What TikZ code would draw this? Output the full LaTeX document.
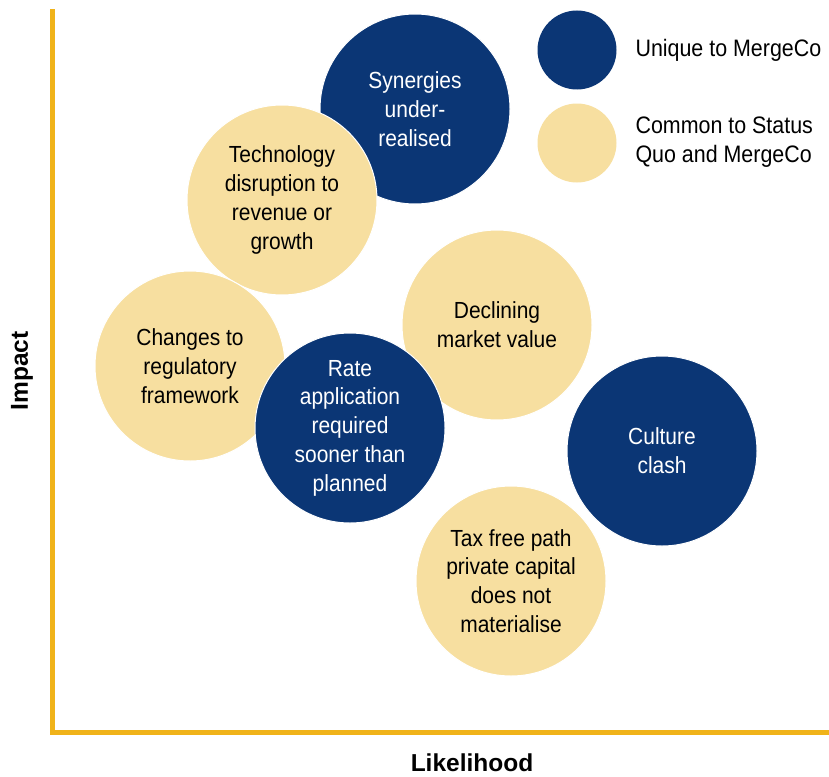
\documentclass[tikz,border=0pt]{standalone}
\usepackage{fontspec}
\setmainfont{Liberation Sans}
% slightly condensed face for the bubble and legend labels
\newfontfamily\labelfont[FakeStretch=0.9]{Liberation Sans}
\definecolor{navy}{RGB}{11,54,117}
\definecolor{sand}{RGB}{247,223,160}
\definecolor{axisgold}{RGB}{240,179,26}
\begin{document}
\begin{tikzpicture}[x=1pt,y=-1pt,
  bubble/.style={circle,minimum size=190pt,inner sep=0pt,draw=white,line width=1pt,
    align=center,font=\labelfont\fontsize{23.3}{28.8}\selectfont},
  unique/.style={bubble,fill=navy,text=white},
  common/.style={bubble,fill=sand,text=black},
  key/.style={circle,minimum size=79pt,inner sep=0pt},
  keytext/.style={anchor=west,align=left,font=\labelfont\fontsize{23.8}{28.8}\selectfont},
  axislabel/.style={font=\fontsize{24.5}{28}\selectfont\bfseries}]
\useasboundingbox (0,0) rectangle (829,776);

% axes
\coordinate (top) at (52.5,9.5);
\coordinate (origin) at (52.5,732.5);
\coordinate (right) at (829,732.5);
\draw[axisgold,line width=5pt,miter limit=10] (top) -- (origin) -- (right);
\node[axislabel] (likelihood) at (472,763) {Likelihood};
\node[axislabel,rotate=90] (impact) at (22,371) {Impact};

% risk bubbles (later ones sit on top)
\node[unique] (synergies) at (415,109) {Synergies\\under-\\realised};
\node[common] (technology) at (282,200) {Technology\\disruption to\\revenue or\\growth};
\node[common] (regulatory) at (190,366) {Changes to\\regulatory\\framework};
\node[common] (market) at (497,325) {Declining\\market value};
\node[unique] (rate) at (350,428) {Rate\\application\\required\\sooner than\\planned};
\node[unique] (culture) at (662,451) {Culture\\clash};
\node[common] (tax) at (511,581) {Tax free path\\private capital\\does not\\materialise};

% legend
\node[key,fill=navy] (keyunique) at (577,50) {};
\node[key,fill=sand] (keycommon) at (577,143) {};
\node[keytext] (keyuniquetext) at (632,50) {Unique to MergeCo};
\node[keytext] (keycommontext) at (632,142.5) {Common to Status\\Quo and MergeCo};
\end{tikzpicture}
\end{document}
